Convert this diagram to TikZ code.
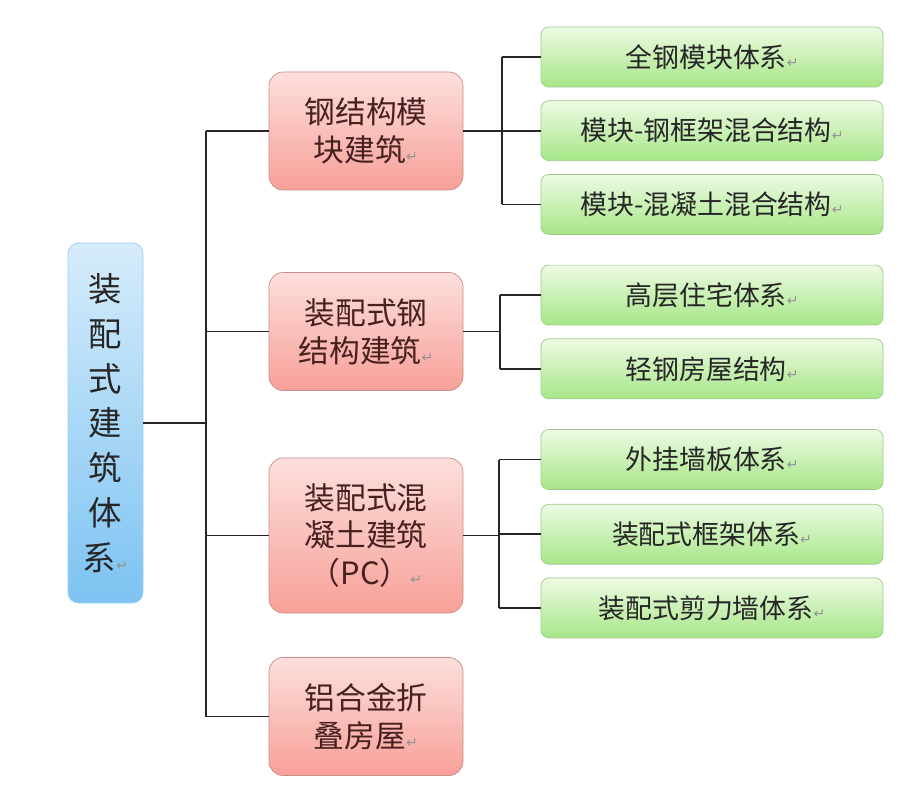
\documentclass[tikz,border=0pt]{standalone}
\usepackage{fontspec}
\usepackage{tikz}
\usetikzlibrary{positioning,calc}
\newfontfamily\cjk{Noto Sans CJK SC}
\newfontfamily\symfont{DejaVu Sans}
\definecolor{pinktop}{HTML}{FDDFDC}
\definecolor{pinkbot}{HTML}{F7A098}
\definecolor{pinkline}{HTML}{C98C8A}
\definecolor{greentop}{HTML}{EEFBE4}
\definecolor{greenbot}{HTML}{A6E687}
\definecolor{greenline}{HTML}{9CC98A}
\definecolor{bluetop}{HTML}{D6ECFB}
\definecolor{bluebot}{HTML}{7DC3F2}
\definecolor{inktext}{HTML}{262626}
\newcommand{\pmark}{{\symfont\fontsize{8}{8}\selectfont\textcolor{gray!85}{↵}}}

\begin{document}
\begin{tikzpicture}[
    rootbox/.style={
      rectangle, rounded corners=6pt,
      draw=bluebot!80!white, top color=bluetop, bottom color=bluebot,
      minimum width=1.5cm, minimum height=7.2cm,
      align=center, text=inktext,
      font=\cjk\fontsize{19}{25.5}\selectfont
    },
    sysbox/.style={
      rectangle, rounded corners=8pt,
      draw=pinkline, top color=pinktop, bottom color=pinkbot,
      minimum width=3.88cm, minimum height=2.36cm,
      align=center, text=inktext!85!red,
      font=\cjk\fontsize{17.5}{21.5}\selectfont
    },
    typebox/.style={
      rectangle, rounded corners=4.5pt,
      draw=greenline, top color=greentop, bottom color=greenbot,
      minimum width=6.84cm, minimum height=1.2cm,
      align=center, text=inktext,
      font=\cjk\fontsize{15.3}{18}\selectfont
    },
    link/.style={draw=black!85, line width=1pt}
  ]
  \useasboundingbox (0,0) rectangle (18,-15.82);

  % Root
  \node[rootbox] (root) at (2.11,-8.46)
    {装\\配\\式\\建\\筑\\体\\系\pmark};

  % Building systems
  \node[sysbox] (steelmod) at (7.32,-2.62) {钢结构模\\块建筑\pmark};
  \node[sysbox] (steel) at (7.32,-6.63) {装配式钢\\结构建筑\pmark};
  \node[sysbox, minimum height=3.1cm] (pc) at (7.32,-10.71)
    {装配式混\\凝土建筑\\（PC）\pmark};
  \node[sysbox] (alu) at (7.32,-14.33) {铝合金折\\叠房屋\pmark};

  % Structure types
  \node[typebox] (allsteel) at (14.24,-1.14) {全钢模块体系\pmark};
  \node[typebox, below=0.26cm of allsteel] (modframe) {模块-钢框架混合结构\pmark};
  \node[typebox, below=0.26cm of modframe] (modconc) {模块-混凝土混合结构\pmark};
  \node[typebox, below=0.6cm of modconc] (highrise) {高层住宅体系\pmark};
  \node[typebox, below=0.26cm of highrise] (light) {轻钢房屋结构\pmark};
  \node[typebox, below=0.6cm of light] (panel) {外挂墙板体系\pmark};
  \node[typebox, below=0.28cm of panel] (frame) {装配式框架体系\pmark};
  \node[typebox, below=0.26cm of frame] (shear) {装配式剪力墙体系\pmark};

  % Trunks
  \coordinate (trunk) at (4.12,0);
  \coordinate (fork1) at (10.04,0);
  \coordinate (fork2) at (10.0,0);
  \coordinate (fork3) at (9.98,0);

  % Connectors
  \draw[link] (root.east) -- (root.east -| trunk);
  \draw[link] (trunk |- steelmod.west) -- (trunk |- alu.west);
  \foreach \s in {steelmod,steel,pc,alu}
    \draw[link] (trunk |- \s.west) -- (\s.west);

  \draw[link] (steelmod.east) -- (steelmod.east -| fork1);
  \draw[link] (fork1 |- allsteel.west) -- (fork1 |- modconc.west);
  \foreach \t in {allsteel,modframe,modconc}
    \draw[link] (fork1 |- \t.west) -- (\t.west);

  \draw[link] (steel.east) -- (steel.east -| fork2);
  \draw[link] (fork2 |- highrise.west) -- (fork2 |- light.west);
  \foreach \t in {highrise,light}
    \draw[link] (fork2 |- \t.west) -- (\t.west);

  \draw[link] (pc.east) -- (pc.east -| fork3);
  \draw[link] (fork3 |- panel.west) -- (fork3 |- shear.west);
  \foreach \t in {panel,frame,shear}
    \draw[link] (fork3 |- \t.west) -- (\t.west);
\end{tikzpicture}
\end{document}
